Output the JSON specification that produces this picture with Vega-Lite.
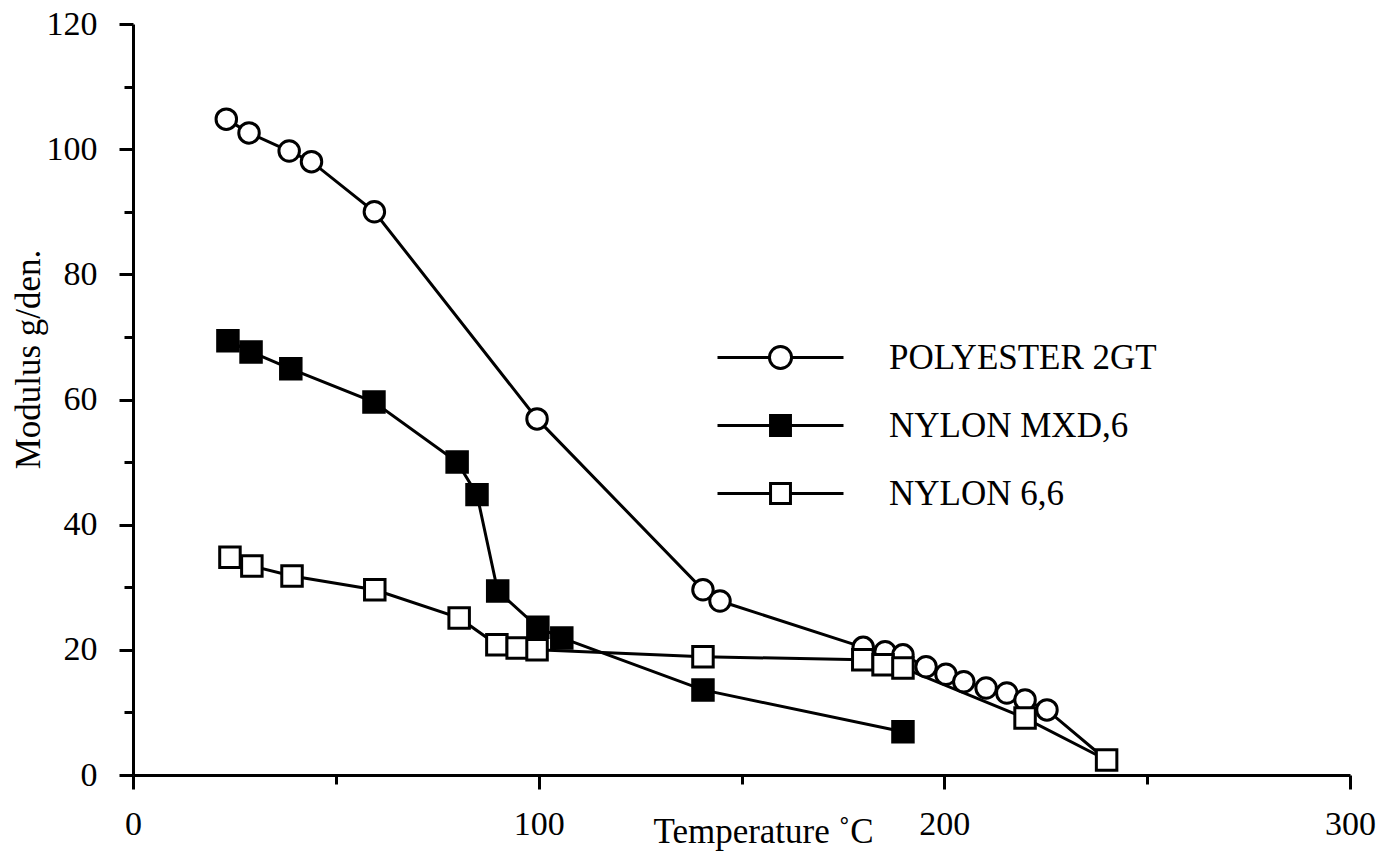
{
  "$schema": "https://vega.github.io/schema/vega-lite/v6.json",
  "autosize": {"type": "none"},
  "padding": {"left": 133, "top": 24, "right": 39, "bottom": 87},
  "width": 1217,
  "height": 751,
  "background": "white",
  "config": {
    "view": {"stroke": null},
    "axis": {
      "labelFont": "Liberation Serif",
      "labelFontSize": 34,
      "labelColor": "black",
      "titleFont": "Liberation Serif",
      "titleFontSize": 35,
      "titleFontWeight": "normal",
      "titleColor": "black",
      "domainColor": "black",
      "domainWidth": 3,
      "tickColor": "black",
      "tickWidth": 3,
      "grid": false
    },
    "legend": {
      "labelFont": "Liberation Serif",
      "labelFontSize": 35,
      "labelColor": "black",
      "labelLimit": 500
    }
  },
  "data": {
    "values": [
      {"series": "POLYESTER 2GT", "T": 23, "M": 104.8},
      {"series": "POLYESTER 2GT", "T": 28.6, "M": 102.6},
      {"series": "POLYESTER 2GT", "T": 38.5, "M": 99.7},
      {"series": "POLYESTER 2GT", "T": 44, "M": 98},
      {"series": "POLYESTER 2GT", "T": 59.5, "M": 90},
      {"series": "POLYESTER 2GT", "T": 99.6, "M": 56.9},
      {"series": "POLYESTER 2GT", "T": 140.5, "M": 29.6},
      {"series": "POLYESTER 2GT", "T": 144.7, "M": 27.8},
      {"series": "POLYESTER 2GT", "T": 180, "M": 20.4},
      {"series": "POLYESTER 2GT", "T": 185.4, "M": 19.7},
      {"series": "POLYESTER 2GT", "T": 189.8, "M": 19.2},
      {"series": "POLYESTER 2GT", "T": 195.5, "M": 17.3},
      {"series": "POLYESTER 2GT", "T": 200.4, "M": 16.1},
      {"series": "POLYESTER 2GT", "T": 204.8, "M": 14.9},
      {"series": "POLYESTER 2GT", "T": 210.3, "M": 13.9},
      {"series": "POLYESTER 2GT", "T": 215.4, "M": 13.1},
      {"series": "POLYESTER 2GT", "T": 219.9, "M": 12},
      {"series": "POLYESTER 2GT", "T": 225.3, "M": 10.4},
      {"series": "POLYESTER 2GT", "T": 240, "M": 2.4},
      {"series": "NYLON MXD,6", "T": 23.4, "M": 69.4},
      {"series": "NYLON MXD,6", "T": 29.1, "M": 67.6},
      {"series": "NYLON MXD,6", "T": 38.9, "M": 64.9},
      {"series": "NYLON MXD,6", "T": 59.4, "M": 59.6},
      {"series": "NYLON MXD,6", "T": 79.9, "M": 50},
      {"series": "NYLON MXD,6", "T": 84.8, "M": 44.8},
      {"series": "NYLON MXD,6", "T": 89.9, "M": 29.4},
      {"series": "NYLON MXD,6", "T": 99.8, "M": 23.6},
      {"series": "NYLON MXD,6", "T": 105.7, "M": 21.9},
      {"series": "NYLON MXD,6", "T": 140.5, "M": 13.6},
      {"series": "NYLON MXD,6", "T": 189.8, "M": 6.9},
      {"series": "NYLON 6,6", "T": 23.9, "M": 34.8},
      {"series": "NYLON 6,6", "T": 29.3, "M": 33.4},
      {"series": "NYLON 6,6", "T": 39.2, "M": 31.8},
      {"series": "NYLON 6,6", "T": 59.6, "M": 29.6},
      {"series": "NYLON 6,6", "T": 80.4, "M": 25.1},
      {"series": "NYLON 6,6", "T": 89.7, "M": 20.8},
      {"series": "NYLON 6,6", "T": 94.7, "M": 20.3},
      {"series": "NYLON 6,6", "T": 99.6, "M": 20},
      {"series": "NYLON 6,6", "T": 140.5, "M": 18.9},
      {"series": "NYLON 6,6", "T": 179.9, "M": 18.4},
      {"series": "NYLON 6,6", "T": 184.9, "M": 17.6},
      {"series": "NYLON 6,6", "T": 189.8, "M": 17.1},
      {"series": "NYLON 6,6", "T": 219.9, "M": 9.1},
      {"series": "NYLON 6,6", "T": 240, "M": 2.4}
    ]
  },
  "layer": [
    {
      "mark": {"type": "line", "strokeWidth": 3, "clip": false},
      "encoding": {
        "x": {
          "field": "T", "type": "quantitative",
          "scale": {"domain": [0, 300], "nice": false, "zero": false},
          "axis": {
            "orient": "bottom",
            "values": [0, 100, 200, 300],
            "tickSize": 14,
            "labelPadding": 18,
            "labelFlush": false,
            "title": "Temperature ˚C",
            "titleX": 630,
            "titleY": 67,
            "titleAlign": "center",
            "titleBaseline": "alphabetic"
          }
        },
        "y": {
          "field": "M", "type": "quantitative",
          "scale": {"domain": [0, 120], "nice": false},
          "axis": {
            "orient": "left",
            "values": [0, 20, 40, 60, 80, 100, 120],
            "tickSize": 14,
            "labelPadding": 22,
            "labelFlush": false,
            "title": "Modulus g/den.",
            "titleX": -105,
            "titleY": 335,
            "titleAngle": -90,
            "titleAlign": "center",
            "titleBaseline": "middle"
          }
        },
        "stroke": {
          "field": "series", "type": "nominal",
          "scale": {"domain": ["POLYESTER 2GT", "NYLON MXD,6", "NYLON 6,6"], "range": ["black", "black", "black"]},
          "legend": {
            "title": null,
            "orient": "none",
            "legendX": 630,
            "legendY": 316,
            "padding": 0,
            "labelOffset": 91,
            "labelLimit": 500,
            "rowPadding": 32,
            "symbolSize": 576,
            "encode": {
              "symbols": {
                "update": {
                  "shape": {"signal": "datum.value === 'POLYESTER 2GT' ? 'M-5.25,0H-0.92M0.92,0H5.25M0.92,0A0.92,0.92,0,1,1,-0.92,0A0.92,0.92,0,1,1,0.92,0Z' : 'M-5.25,0H-0.83M0.83,0H5.25M-0.83,-0.83H0.83V0.83H-0.83Z'"},
                  "fill": {"signal": "datum.value === 'NYLON MXD,6' ? 'black' : 'white'"},
                  "stroke": {"value": "black"},
                  "strokeWidth": {"value": 3},
                  "size": {"value": 576},
                  "opacity": {"value": 1}
                }
              }
            }
          }
        }
      }
    },
    {
      "transform": [{"filter": "!(datum.series === 'POLYESTER 2GT' && datum.T >= 240)"}],
      "mark": {"type": "point", "size": 420, "strokeWidth": 3, "opacity": 1, "stroke": "black", "filled": false, "clip": false},
      "encoding": {
        "x": {
          "field": "T", "type": "quantitative",
          "scale": {"domain": [0, 300], "nice": false, "zero": false},
          "axis": {
            "orient": "bottom",
            "values": [50, 150, 250],
            "tickSize": 9,
            "labels": false,
            "domain": false,
            "title": null
          }
        },
        "y": {
          "field": "M", "type": "quantitative",
          "scale": {"domain": [0, 120], "nice": false},
          "axis": {
            "orient": "left",
            "values": [10, 30, 50, 70, 90, 110],
            "tickSize": 9,
            "labels": false,
            "domain": false,
            "title": null
          }
        },
        "shape": {
          "field": "series", "type": "nominal",
          "scale": {"domain": ["NYLON 6,6", "NYLON MXD,6", "POLYESTER 2GT"], "range": ["square", "square", "circle"]},
          "legend": null
        },
        "fill": {
          "field": "series", "type": "nominal",
          "scale": {"domain": ["NYLON 6,6", "NYLON MXD,6", "POLYESTER 2GT"], "range": ["white", "black", "white"]},
          "legend": null
        }
      }
    }
  ],
  "resolve": {"axis": {"x": "independent", "y": "independent"}}
}
